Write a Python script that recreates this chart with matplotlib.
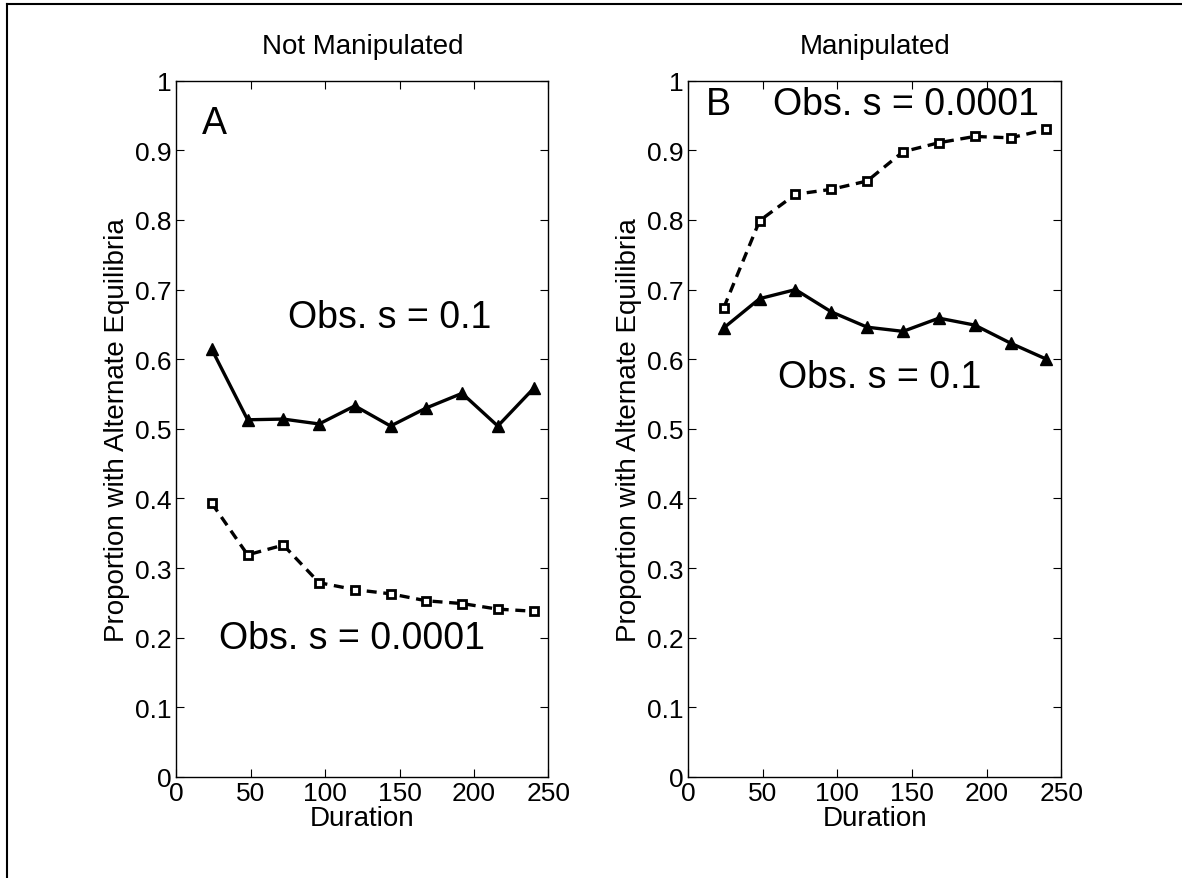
import matplotlib
matplotlib.use("Agg")
import matplotlib.pyplot as plt
from matplotlib.lines import Line2D

plt.rcParams["font.family"] = ["Liberation Sans", "DejaVu Sans"]

duration = [24, 48, 72, 96, 120, 144, 168, 192, 216, 240]

# Not manipulated
a_high = [0.614, 0.513, 0.514, 0.507, 0.533, 0.504, 0.530, 0.551, 0.504, 0.558]
a_low = [0.393, 0.319, 0.333, 0.279, 0.269, 0.263, 0.253, 0.249, 0.241, 0.238]

# Manipulated
b_high = [0.645, 0.687, 0.700, 0.668, 0.646, 0.640, 0.659, 0.649, 0.623, 0.600]
b_low = [0.674, 0.799, 0.837, 0.844, 0.856, 0.898, 0.911, 0.920, 0.918, 0.930]

titles = ["Not Manipulated", "Manipulated"]
yticks = [0, 0.1, 0.2, 0.3, 0.4, 0.5, 0.6, 0.7, 0.8, 0.9, 1]
yticklabels = ["0", "0.1", "0.2", "0.3", "0.4", "0.5", "0.6", "0.7", "0.8", "0.9", "1"]

fig = plt.figure(figsize=(11.82, 8.79), dpi=100)
axA = fig.add_axes([0.149, 0.115, 0.315, 0.792])
axB = fig.add_axes([0.582, 0.115, 0.316, 0.792])

for ax, hi, lo, title in [(axA, a_high, a_low, titles[0]), (axB, b_high, b_low, titles[1])]:
    ax.plot(duration, hi, "-", color="black", lw=2.4, marker="^", ms=9, mfc="black", mec="black")
    ax.plot(duration, lo, "--", color="black", lw=2.4, dashes=(3, 2), marker="s", ms=6,
            mfc="white", mec="black", mew=2)
    ax.set_xlim(0, 250)
    ax.set_ylim(0, 1)
    ax.set_xticks([0, 50, 100, 150, 200, 250])
    ax.set_yticks(yticks)
    ax.set_yticklabels(yticklabels)
    ax.tick_params(direction="in", length=6, labelsize=19, top=True, right=True, pad=3)
    for s in ax.spines.values():
        s.set_linewidth(1.0)
    ax.set_xlabel("Duration", fontsize=20, labelpad=0)
    ax.set_ylabel("Proportion with Alternate Equilibria", fontsize=20, labelpad=4)
    ax.set_title(title, fontsize=20, pad=20)

axA.text(17, 0.94, "A", fontsize=27, va="center")
axA.text(75, 0.66, "Obs. s = 0.1", fontsize=27, va="center")
axA.text(29, 0.20, "Obs. s = 0.0001", fontsize=27, va="center")

axB.text(12, 0.966, "B", fontsize=27, va="center")
axB.text(57, 0.966, "Obs. s = 0.0001", fontsize=27, va="center")
axB.text(60, 0.574, "Obs. s = 0.1", fontsize=27, va="center")

# outer frame (left and top edges visible)
fig.add_artist(Line2D([0.0055, 0.0055], [0, 0.9945], transform=fig.transFigure, color="black", lw=1.5))
fig.add_artist(Line2D([0.0055, 1], [0.9945, 0.9945], transform=fig.transFigure, color="black", lw=1.5))

fig.savefig("out.png", dpi=100)
